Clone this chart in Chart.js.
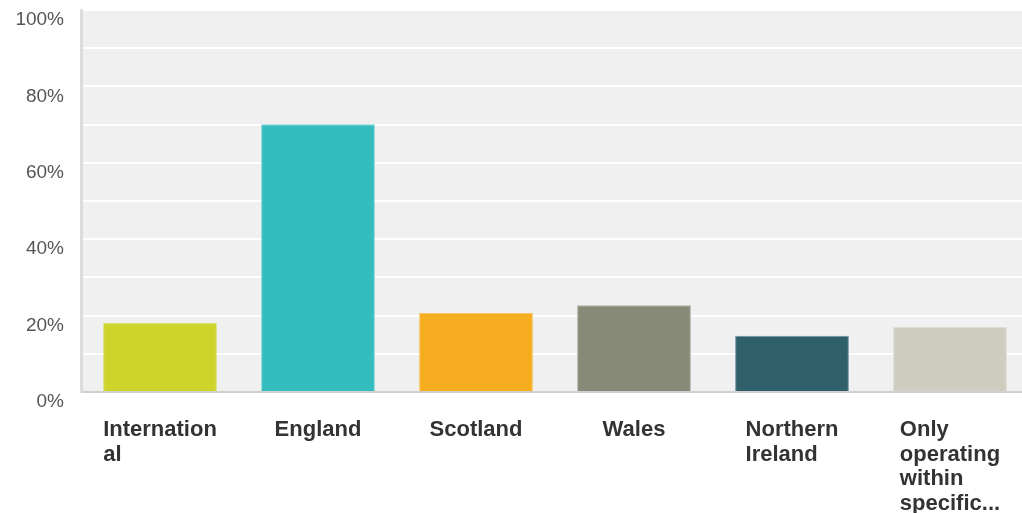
<!DOCTYPE html>
<html>
<head>
<meta charset="utf-8">
<script src="https://cdn.jsdelivr.net/npm/chart.js@4/dist/chart.umd.min.js"></script>
<style>
  html, body { margin: 0; padding: 0; background: #fff; overflow: hidden; }
  #wrap { width: 1029px; height: 513px; }
</style>
</head>
<body>
<div id="wrap"><canvas id="chart"></canvas></div>
<script>
const categories = [
    ['Internation', 'al'],
    ['England'],
    ['Scotland'],
    ['Wales'],
    ['Northern', 'Ireland'],
    ['Only', 'operating', 'within', 'specific...']
];
const values = [18.1, 70.1, 20.7, 22.7, 14.7, 17.1];
const barColors = ['#cfd42a', '#33bdbf', '#f5ad1f', '#878a77', '#2e5f6b', '#cfcdbf'];
const barBorders = ['#d9dd6a', '#7fd3d4', '#f7c46a', '#aeb0a2', '#6f959e', '#dddbd0'];
const yTicks = [0, 20, 40, 60, 80, 100];

// grey plot background
const plotBackground = {
    id: 'plotBackground',
    beforeDraw(chart) {
        const { ctx, chartArea } = chart;
        ctx.save();
        ctx.fillStyle = '#f0f0f0';
        ctx.fillRect(chartArea.left, chartArea.top, chartArea.right - chartArea.left, chartArea.bottom - chartArea.top);
        ctx.restore();
    }
};

// x labels: block centred on the category, lines left aligned
const xLabels = {
    id: 'xLabels',
    afterDraw(chart) {
        const { ctx } = chart;
        const x = chart.scales.x;
        ctx.save();
        ctx.font = 'bold 22px "Liberation Sans", Arial, sans-serif';
        ctx.fillStyle = '#333';
        ctx.textAlign = 'left';
        ctx.textBaseline = 'alphabetic';
        categories.forEach((lines, i) => {
            const cx = x.getPixelForValue(i);
            const w = Math.max(...lines.map(l => ctx.measureText(l).width));
            lines.forEach((line, j) => {
                ctx.fillText(line, cx - w / 2, 436 + j * 24.5);
            });
        });
        ctx.restore();
    }
};

new Chart(document.getElementById('chart'), {
    type: 'bar',
    data: {
        labels: categories.map(c => c.join(' ')),
        datasets: [{
            data: values,
            backgroundColor: barColors,
            borderColor: barBorders,
            borderWidth: 1,
            barPercentage: 0.72,
            categoryPercentage: 1
        }]
    },
    options: {
        responsive: true,
        maintainAspectRatio: false,
        animation: false,
        layout: { padding: { top: 10, right: 0, left: 0, bottom: 0 } },
        plugins: {
            legend: { display: false },
            tooltip: { enabled: false }
        },
        scales: {
            x: {
                grid: { display: false },
                border: { color: '#d0d0d0', width: 2 },
                ticks: { display: false },
                afterFit(scale) { scale.height = 121; }
            },
            y: {
                min: 0,
                max: 100,
                grid: { color: '#ffffff', lineWidth: 2, drawTicks: false },
                border: { color: '#dcdcdc', width: 3 },
                ticks: {
                    stepSize: 10,
                    autoSkip: false,
                    padding: 17,
                    labelOffset: 10,
                    color: '#555',
                    font: { family: '"Liberation Sans", Arial, sans-serif', size: 19 },
                    callback: v => yTicks.includes(v) ? v + '%' : ''
                },
                afterFit(scale) {
                    scale.width = 81;
                    scale.paddingTop = 0;
                    scale.paddingBottom = 0;
                }
            }
        }
    },
    plugins: [plotBackground, xLabels]
});
</script>
</body>
</html>
